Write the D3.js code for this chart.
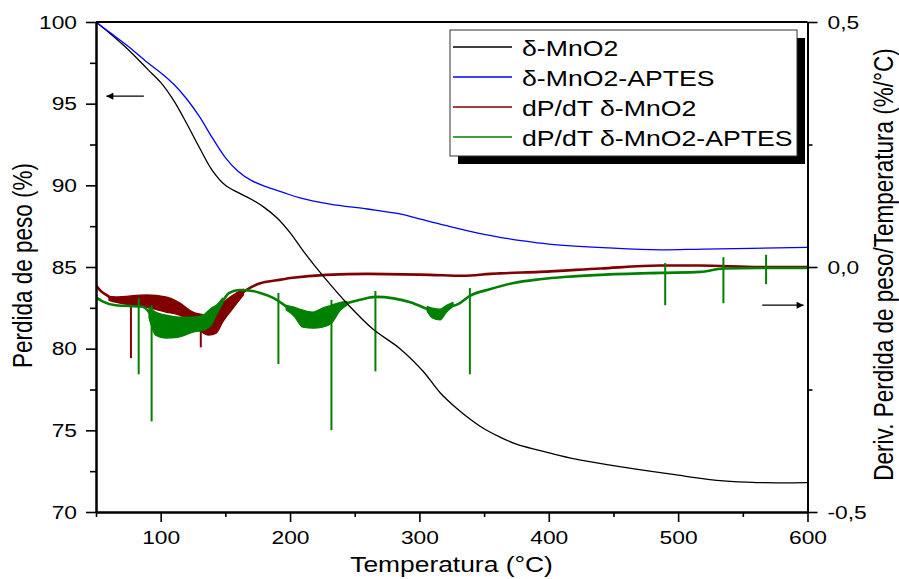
<!DOCTYPE html>
<html>
<head>
<meta charset="utf-8">
<script src="https://cdn.jsdelivr.net/npm/d3@7"></script>
<style>
  body { margin: 0; background: #fff; }
  svg text { font-family: "Liberation Sans", Arial, sans-serif; fill: #000; }
</style>
</head>
<body>
<svg id="chart" width="899" height="579"></svg>
<script>
// ---- thermogravimetric curves (weight %, left axis) ----
const tempMnO2 = [50, 60, 75, 90, 100, 110, 120, 130, 140, 150, 160, 170, 180, 190, 200, 210, 225, 246, 264, 285, 303, 316, 328, 339, 350, 362, 375, 391, 401, 420, 445, 496, 535, 561, 600];
const weightMnO2 = [100, 99.35, 98.3, 97.1, 96.3, 95.2, 93.8, 92.3, 90.9, 90.0, 89.55, 89.15, 88.65, 88.0, 87.1, 86.0, 84.5, 82.6, 81.2, 80.0, 78.6, 77.3, 76.4, 75.7, 75.1, 74.6, 74.15, 73.8, 73.6, 73.25, 72.9, 72.3, 71.9, 71.8, 71.8];

const tempAptes = [50, 60, 75, 90, 100, 110, 120, 130, 140, 150, 160, 170, 182, 195, 207, 231, 260, 285, 300, 320, 350, 380, 400, 450, 486, 520, 600];
const weightAptes = [100, 99.4, 98.5, 97.5, 96.9, 96.2, 95.3, 94.2, 92.9, 91.7, 90.85, 90.3, 89.9, 89.55, 89.25, 88.85, 88.55, 88.25, 87.95, 87.55, 87.0, 86.6, 86.4, 86.15, 86.05, 86.1, 86.2];

// ---- derivative curves (%/°C, right axis) ----
const dTempMnO2 = [50, 53, 58, 65, 80, 89, 104, 114, 125, 133, 137, 143, 148, 156, 164, 170, 177, 190, 202, 228, 260, 308, 334, 355, 362, 393, 440, 486, 517, 563, 600];
const derivMnO2 = [-0.037, -0.047, -0.057, -0.066, -0.067, -0.070, -0.077, -0.085, -0.102, -0.117, -0.121, -0.113, -0.093, -0.071, -0.051, -0.041, -0.033, -0.027, -0.022, -0.016, -0.014, -0.016, -0.018, -0.014, -0.013, -0.010, -0.003, 0.003, 0.003, 0.000, 0.000];

const dTempAptes = [50, 55, 65, 86, 91, 96, 104, 114, 125, 133, 139, 143, 148, 153, 161, 171, 177, 187, 200, 210, 218, 225, 232, 239, 244, 254, 266, 280, 293, 306, 313, 321, 331, 339, 355, 372, 393, 414, 440, 486, 517, 535, 563, 600];
const derivAptes = [-0.062, -0.070, -0.078, -0.081, -0.092, -0.115, -0.121, -0.123, -0.118, -0.113, -0.101, -0.088, -0.069, -0.053, -0.047, -0.049, -0.053, -0.063, -0.086, -0.104, -0.108, -0.103, -0.096, -0.080, -0.074, -0.067, -0.061, -0.064, -0.072, -0.086, -0.094, -0.084, -0.074, -0.059, -0.045, -0.033, -0.025, -0.020, -0.016, -0.012, -0.010, -0.003, -0.002, -0.002];

// scatter envelope of the noisy derivative signal: [temperature, upper, lower]
const noiseMnO2 = [[60, -0.060, -0.068], [65, -0.061, -0.072], [89, -0.057, -0.082], [104, -0.061, -0.092], [114, -0.072, -0.098], [125, -0.092, -0.112], [133, -0.098, -0.135], [137, -0.102, -0.139], [143, -0.092, -0.135], [148, -0.074, -0.112], [156, -0.057, -0.084], [164, -0.045, -0.057]];
const noiseAptes = [
  [91, -0.082, -0.104], [96, -0.092, -0.139], [104, -0.098, -0.145], [114, -0.102, -0.143], [125, -0.102, -0.133], [133, -0.098, -0.129], [139, -0.084, -0.119], [143, -0.078, -0.098], [148, -0.063, -0.074],
  null,
  [197, -0.078, -0.088], [203, -0.082, -0.100], [210, -0.088, -0.123], [218, -0.092, -0.125], [225, -0.084, -0.123], [232, -0.078, -0.115], [239, -0.072, -0.088], [244, -0.070, -0.078],
  null,
  [306, -0.080, -0.090], [310, -0.084, -0.104], [316, -0.086, -0.108], [321, -0.078, -0.092], [326, -0.072, -0.080]
];

// isolated spikes: [temperature, top, bottom]
const spikesMnO2 = [[77, -0.063, -0.186], [131, -0.108, -0.164]];
const spikesAptes = [[83, -0.063, -0.219], [93, -0.078, -0.315], [191, -0.053, -0.198], [232, -0.067, -0.333], [266, -0.049, -0.213], [339, -0.043, -0.219], [490, 0.008, -0.078], [535, 0.020, -0.074], [568, 0.025, -0.035]];

// axis ticks
const xMajor = [100, 200, 300, 400, 500, 600];
const xMinor = [50, 150, 250, 350, 450, 550];
const leftMajor = [70, 75, 80, 85, 90, 95, 100];
const leftMinor = [72.5, 77.5, 82.5, 87.5, 92.5, 97.5];
const rightMajor = [-0.5, 0.0, 0.5];
const rightMinor = [-0.25, 0.25];

const legendNames = ["\u03B4-MnO2", "\u03B4-MnO2-APTES", "dP/dT \u03B4-MnO2", "dP/dT \u03B4-MnO2-APTES"];
const seriesColors = ["#000000", "#0000ff", "#800000", "#008000"];

// direction arrows pointing to each curve family's axis: [T, value]
const arrowLeft = [[87, 95.46], [58, 95.46]];
const arrowRight = [[565, -0.078], [597, -0.078]];

// ---------------------------------------------------------------
const SX = 1.2;            // horizontal glyph stretch of the lettering
const svg = d3.select("#chart");
const plot = { left: 96, right: 807.5, top: 22, bottom: 512 };

const x = d3.scaleLinear().domain([50, 600]).range([plot.left, plot.right]);
const yL = d3.scaleLinear().domain([70, 100]).range([plot.bottom, plot.top]);
const yR = d3.scaleLinear().domain([-0.5, 0.5]).range([plot.bottom, plot.top]);

const comma = d3.formatLocale({ decimal: ",", thousands: ".", grouping: [3], currency: ["", ""], minus: "-" });
const fmtR = comma.format(".1f");

const defs = svg.append("defs");
defs.append("marker").attr("id", "head")
  .attr("viewBox", "0 0 10 10").attr("refX", 10).attr("refY", 5)
  .attr("markerWidth", 10).attr("markerHeight", 7).attr("markerUnits", "userSpaceOnUse")
  .attr("orient", "auto")
  .append("path").attr("d", "M0,0 L10,5 L0,10 Z").attr("fill", "#000");

defs.append("clipPath").attr("id", "clip").append("rect")
  .attr("x", plot.left).attr("y", plot.top)
  .attr("width", plot.right - plot.left).attr("height", plot.bottom - plot.top);

const marks = svg.append("g").attr("clip-path", "url(#clip)");

// derivative curves
function drawDerivative(temps, vals, noise, spikes, color) {
  const g = marks.append("g");
  const area = d3.area()
    .defined(d => d !== null)
    .x(d => x(d[0])).y0(d => yR(d[2])).y1(d => yR(d[1]))
    .curve(d3.curveMonotoneX);
  g.append("path").attr("d", area(noise))
    .attr("fill", color).attr("stroke", color).attr("stroke-width", 1.2)
    .attr("stroke-linejoin", "bevel");
  const pts = temps.map((t, i) => [t, vals[i]]);
  g.append("path")
    .attr("d", d3.line().x(d => x(d[0])).y(d => yR(d[1])).curve(d3.curveMonotoneX)(pts))
    .attr("fill", "none").attr("stroke", color).attr("stroke-width", 2.6);
  g.selectAll("line.spike").data(spikes).join("line")
    .attr("class", "spike")
    .attr("x1", d => x(d[0])).attr("x2", d => x(d[0]))
    .attr("y1", d => yR(d[1])).attr("y2", d => yR(d[2]))
    .attr("stroke", color).attr("stroke-width", 2);
}
drawDerivative(dTempMnO2, derivMnO2, noiseMnO2, spikesMnO2, seriesColors[2]);
drawDerivative(dTempAptes, derivAptes, noiseAptes, spikesAptes, seriesColors[3]);

// weight-loss curves
function drawWeight(temps, vals, color) {
  const pts = temps.map((t, i) => [t, vals[i]]);
  marks.append("path")
    .attr("d", d3.line().x(d => x(d[0])).y(d => yL(d[1])).curve(d3.curveCatmullRom.alpha(0.5))(pts))
    .attr("fill", "none").attr("stroke", color).attr("stroke-width", 1.3);
}
drawWeight(tempMnO2, weightMnO2, seriesColors[0]);
drawWeight(tempAptes, weightAptes, seriesColors[1]);

// frame
svg.append("line").attr("x1", plot.left).attr("x2", plot.right).attr("y1", plot.top).attr("y2", plot.top)
  .attr("stroke", "#000").attr("stroke-width", 2);

// axes
function styleAxis(g, width) {
  g.select(".domain").attr("stroke-width", width);
  g.selectAll(".tick line").attr("stroke-width", 1.6);
  g.attr("font-size", null).attr("font-family", null);
}
function stretchLabels(g) {
  g.selectAll(".tick text").each(function () {
    const t = d3.select(this);
    const tx = +t.attr("x") || 0;
    t.attr("x", 0).attr("transform", `translate(${tx},0) scale(${SX},1)`);
  });
}

const bottomG = svg.append("g").attr("transform", `translate(0,${plot.bottom})`);
bottomG.append("g").call(d3.axisBottom(x).tickValues(xMinor).tickSize(5).tickFormat("").tickSizeOuter(0))
  .call(g => styleAxis(g, 2));
const bMaj = bottomG.append("g").call(d3.axisBottom(x).tickValues(xMajor).tickSize(10).tickPadding(9).tickSizeOuter(0))
  .call(g => styleAxis(g, 2));
bMaj.selectAll(".tick text").attr("font-size", 19);
stretchLabels(bMaj);

const leftG = svg.append("g").attr("transform", `translate(${plot.left},0)`);
leftG.append("g").call(d3.axisLeft(yL).tickValues(leftMinor).tickSize(6).tickFormat("").tickSizeOuter(0))
  .call(g => styleAxis(g, 2));
const lMaj = leftG.append("g").call(d3.axisLeft(yL).tickValues(leftMajor).tickSize(10).tickPadding(9).tickSizeOuter(0))
  .call(g => styleAxis(g, 2));
lMaj.selectAll(".tick text").attr("font-size", 19);
stretchLabels(lMaj);

const rightG = svg.append("g").attr("transform", `translate(${plot.right},0)`);
rightG.append("g").call(d3.axisRight(yR).tickValues(rightMinor).tickSize(5).tickFormat("").tickSizeOuter(0))
  .call(g => styleAxis(g, 1.8));
const rMaj = rightG.append("g").call(d3.axisRight(yR).tickValues(rightMajor).tickSize(10).tickPadding(10).tickFormat(fmtR).tickSizeOuter(0))
  .call(g => styleAxis(g, 1.8));
rMaj.selectAll(".tick text").attr("font-size", 19);
stretchLabels(rMaj);

// axis titles
svg.append("text")
  .attr("transform", `translate(451.5,572) scale(${SX},1)`)
  .attr("text-anchor", "middle").attr("font-size", 22)
  .text("Temperatura (\u00B0C)");
svg.append("text")
  .attr("transform", `translate(22.5,265.5) scale(${SX},1) rotate(-90)`)
  .attr("text-anchor", "middle").attr("dominant-baseline", "central").attr("font-size", 22.5)
  .text("Perdida de peso (%)");
svg.append("text")
  .attr("transform", `translate(884,264.5) scale(${SX},1) rotate(-90)`)
  .attr("text-anchor", "middle").attr("dominant-baseline", "central").attr("font-size", 22.5)
  .text("Deriv. Perdida de peso/Temperatura (%/\u00B0C)");

// arrows
svg.append("path")
  .attr("d", d3.line().x(d => x(d[0])).y(d => yL(d[1]))(arrowLeft))
  .attr("stroke", "#000").attr("stroke-width", 1.3).attr("marker-end", "url(#head)");
svg.append("path")
  .attr("d", d3.line().x(d => x(d[0])).y(d => yR(d[1]))(arrowRight))
  .attr("stroke", "#000").attr("stroke-width", 1.3).attr("marker-end", "url(#head)");

// legend
const lg = { x: 450, y: 30, w: 347, h: 126, shadow: 8, row: 30, first: 56, sx: 1.24 };
const legend = svg.append("g");
legend.append("rect")
  .attr("x", lg.x + lg.shadow).attr("y", lg.y + lg.shadow).attr("width", lg.w).attr("height", lg.h)
  .attr("fill", "#000");
legend.append("rect")
  .attr("x", lg.x).attr("y", lg.y).attr("width", lg.w).attr("height", lg.h)
  .attr("fill", "#fff").attr("stroke", "#333").attr("stroke-width", 1);
const items = legend.selectAll("g.item").data(legendNames).join("g")
  .attr("class", "item")
  .attr("transform", (d, i) => `translate(0,${lg.first + i * lg.row})`);
items.append("line")
  .attr("x1", lg.x + 3).attr("x2", lg.x + 62).attr("y1", -9).attr("y2", -9)
  .attr("stroke", (d, i) => seriesColors[i]).attr("stroke-width", 1.3);
items.append("text")
  .attr("transform", `translate(${lg.x + 72},0) scale(${lg.sx},1)`)
  .attr("font-size", 21.5)
  .text(d => d);
</script>
</body>
</html>
